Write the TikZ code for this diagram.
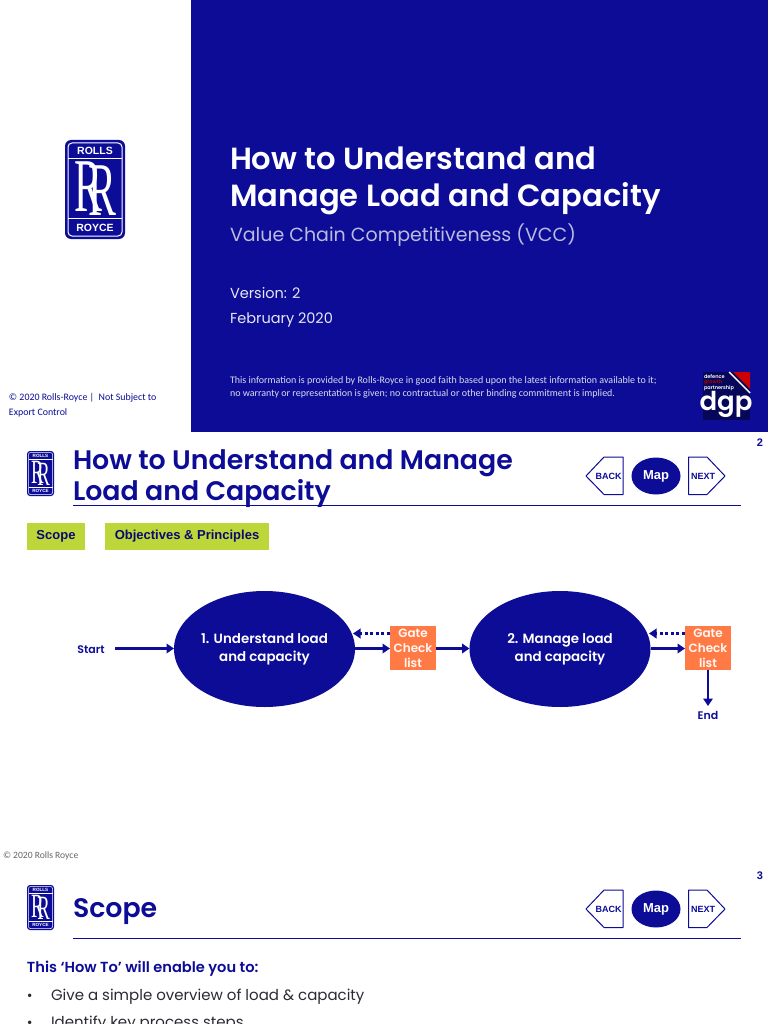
\documentclass[tikz,border=0pt]{standalone}
\usepackage{fontspec}
\setmainfont{Poppins}[BoldFont={Poppins SemiBold}]
\newfontfamily\arialf{Liberation Sans}
\newfontfamily\serifl{Liberation Serif}
\newfontfamily\narrowf{Carlito}
\usetikzlibrary{arrows.meta,shapes.geometric}
\definecolor{rrblue}{HTML}{0C0C96}
\definecolor{gate}{HTML}{FF7A45}
\definecolor{lime}{HTML}{BDD63A}
\definecolor{bodyink}{HTML}{2A2A33}
\newcommand{\fs}[1]{\fontsize{#1}{#1}\selectfont}
\newcommand{\rrmark}[2]{{\serifl\fs{#1}\scalebox{.55}[1]{R}\kern-#2pt\raisebox{-.05em}{\scalebox{.55}[1]{R}}}}
\tikzset{
  lbl/.style={inner sep=0pt,outer sep=0pt},
  left lbl/.style={lbl,anchor=base west,align=left},
  heading/.style={left lbl,text=rrblue,font=\fs{26.8}\bfseries},
  flowell/.style={ellipse,fill=rrblue,text=white,minimum width=181pt,minimum height=116pt,inner sep=0pt,outer sep=0pt,align=center,font=\fs{13.4}\bfseries},
  gatebox/.style={rectangle,fill=gate,text=white!95!gate,minimum width=46pt,minimum height=44pt,inner sep=0pt,outer sep=0pt,align=center,font=\fs{12}\bfseries},
  limebox/.style={rectangle,fill=lime,text=rrblue!75!black,minimum height=27pt,inner sep=0pt,font=\arialf\fs{13}\bfseries},
  flow/.style={draw=rrblue,line width=2.3pt,-{Triangle[length=7.5pt,width=9.5pt]}},
  backflow/.style={draw=rrblue,line width=2.6pt,dash pattern=on 3pt off 2.6pt,-{Triangle[length=7.5pt,width=9.5pt]}},
  navshape/.style={draw=rrblue,line width=1pt,fill=white,line join=round},
  navtext/.style={lbl,text=rrblue,font=\arialf\fs{9}\bfseries},
  mapell/.style={ellipse,fill=rrblue,text=white,minimum width=49pt,minimum height=37pt,inner sep=0pt,font=\arialf\fs{13}\bfseries},
  pagenum/.style={lbl,text=rrblue,font=\arialf\fs{11}\bfseries},
  rule/.style={draw=rrblue,line width=1pt},
  rrlabel/.style={lbl,text=white,font=\arialf\bfseries},
}
\begin{document}
\begin{tikzpicture}[x=1pt,y=-1pt]
\useasboundingbox (0,0) rectangle (768,1024);
\clip (0,0) rectangle (768,1024);
\fill[white] (0,0) rectangle (768,1024);
% cover slide
\fill[rrblue] (191,0) rectangle (768,432);
\begin{scope}[shift={(65,140)}]
  \fill[rrblue,rounded corners=6pt] (0,0) rectangle (60,99);
  \draw[white,line width=1pt,rounded corners=4pt] (3,3) rectangle (57,96);
  \draw[white,line width=1pt] (3,19) -- (57,19) (3,79) -- (57,79);
  \node[rrlabel,font=\arialf\bfseries\fs{10.5}] (ca) at (30,11) {ROLLS};
  \node[rrlabel,font=\arialf\bfseries\fs{10.5}] (cb) at (30,88) {ROYCE};
  \node[lbl,text=white] (cc) at (30,49) {\rrmark{76}{14}};
\end{scope}
\node[left lbl,text=white,font=\fs{30.6}\bfseries] (t1) at (230,170) {How to Understand and};
\node[left lbl,text=white,font=\fs{30.6}\bfseries] (t2) at (230,207) {Manage Load and Capacity};
\node[left lbl,text=white!72!rrblue,font=\fs{19}] (t3) at (230,241) {Value Chain Competitiveness (VCC)};
\node[left lbl,text=white!90!rrblue,font=\fs{14.5}] (t4) at (230,298) {Version: 2};
\node[left lbl,text=white!90!rrblue,font=\fs{14.5}] (t5) at (230,323) {February 2020};
\node[left lbl,text=white!85!rrblue,font=\narrowf\fs{10}] (t6) at (230,383.5) {This information is provided by Rolls-Royce in good faith based upon the latest information available to it;};
\node[left lbl,text=white!85!rrblue,font=\narrowf\fs{10}] (t7) at (230,396) {no warranty or representation is given; no contractual or other binding commitment is implied.};
\node[left lbl,text=rrblue,font=\narrowf\fs{9.9}] (t8) at (9,400.5) {© 2020 Rolls-Royce | ~Not Subject to};
\node[left lbl,text=rrblue,font=\narrowf\fs{9.9}] (t9) at (9,415) {Export Control};
% dgp logo
\fill[rrblue!60!black] (703,372) rectangle (750,420);
\fill[red!80!black] (733,372) -- (750,372) -- (750,389) -- cycle;
\draw[white,line width=1.4pt] (729,372) -- (750,393);
\node[left lbl,text=white,font=\fs{5}\bfseries] (d1) at (704,378) {defence};
\node[left lbl,text=red!70!black,font=\fs{5}\bfseries] (d2) at (704,383.5) {growth};
\node[left lbl,text=white,font=\fs{5}\bfseries] (d3) at (704,389) {partnership};
\node[lbl,text=white,font=\fs{26}\bfseries] (d4) at (726,404) {dgp};
% slide 2
\begin{scope}[shift={(27,451)}]
  \fill[rrblue,rounded corners=3pt] (0,0) rectangle (27,45);
  \draw[white,line width=.5pt,rounded corners=2pt] (1.5,1.5) rectangle (25.5,43.5);
  \draw[white,line width=.5pt] (1.5,8.7) -- (25.5,8.7) (1.5,36) -- (25.5,36);
  \node[rrlabel,font=\arialf\bfseries\fs{4.6}] (la) at (13.5,5.2) {ROLLS};
  \node[rrlabel,font=\arialf\bfseries\fs{4.6}] (lb) at (13.5,39.9) {ROYCE};
  \node[lbl,text=white] (lc) at (13.5,22.3) {\rrmark{34}{6.3}};
\end{scope}
\node[heading] (h1) at (73,469) {How to Understand and Manage};
\node[heading] (h2) at (73,500) {Load and Capacity};
\draw[rule] (73,505.5) -- (741,505.5);
\node[pagenum] (p2) at (760,443) {2};
\draw[navshape] (586,476) -- (604,457) -- (623,457) -- (623,494.5) -- (604,494.5) -- cycle;
\node[navtext] (back1) at (608.5,476) {BACK};
\node[mapell] (map1) at (656,476) {Map};
\draw[navshape] (688.5,457) -- (707,457) -- (725,476) -- (707,494.5) -- (688.5,494.5) -- cycle;
\node[navtext] (next1) at (703,476.5) {NEXT};
\node[limebox,minimum width=58pt] (scope) at (56,536.5) {\raisebox{-1pt}{Scope}};
\node[limebox,minimum width=164pt] (obj) at (187,536.5) {\raisebox{-1pt}{Objectives \& Principles}};
% flow
\node[lbl,text=rrblue,font=\fs{11}\bfseries] (start) at (91,649.5) {Start};
\node[flowell] (e1) at (264.5,649) {\raisebox{-.5pt}{1. Understand load\vphantom{g}}\\[2.5pt]and capacity};
\node[gatebox] (g1) at (413,648) {Gate\\[3pt]Check\\[3pt]list};
\node[flowell] (e2) at (560,649) {\raisebox{-.5pt}{2. Manage load\vphantom{g}}\\[2.5pt]and capacity};
\node[gatebox] (g2) at (708,648) {Gate\\[3pt]Check\\[3pt]list};
\node[lbl,text=rrblue,font=\fs{11}\bfseries] (end) at (708,715) {End};
\coordinate (startout) at (115,648.5);
\draw[flow] (startout) -- (e1.west |- startout);
\draw[flow] (e1.east |- 0,648.5) -- (g1.west |- 0,648.5);
\draw[flow] (g1.east |- 0,648.5) -- (e2.west |- 0,648.5);
\draw[flow] (e2.east |- 0,648.5) -- (g2.west |- 0,648.5);
\draw[backflow] (g1.west |- 0,633.5) -- (353,633.5);
\draw[backflow] (g2.west |- 0,633.5) -- (649,633.5);
\draw[flow] (g2.south) -- (end.north |- 0,706);
\node[left lbl,text=black!60,font=\narrowf\fs{9.6}] (c2) at (3,858) {© 2020 Rolls Royce};
% slide 3
\begin{scope}[shift={(27,885)}]
  \fill[rrblue,rounded corners=3pt] (0,0) rectangle (27,45);
  \draw[white,line width=.5pt,rounded corners=2pt] (1.5,1.5) rectangle (25.5,43.5);
  \draw[white,line width=.5pt] (1.5,8.7) -- (25.5,8.7) (1.5,36) -- (25.5,36);
  \node[rrlabel,font=\arialf\bfseries\fs{4.6}] (ma) at (13.5,5.2) {ROLLS};
  \node[rrlabel,font=\arialf\bfseries\fs{4.6}] (mb) at (13.5,39.9) {ROYCE};
  \node[lbl,text=white] (mc) at (13.5,22.3) {\rrmark{34}{6.3}};
\end{scope}
\node[heading] (h3) at (73,917.5) {Scope};
\draw[rule] (73,938.5) -- (741,938.5);
\node[pagenum] (p3) at (760,876) {3};
\draw[navshape] (586,909) -- (604,890) -- (623,890) -- (623,927.5) -- (604,927.5) -- cycle;
\node[navtext] (back2) at (608.5,909) {BACK};
\node[mapell] (map2) at (656,909) {Map};
\draw[navshape] (688.5,890) -- (707,890) -- (725,909) -- (707,927.5) -- (688.5,927.5) -- cycle;
\node[navtext] (next2) at (703,909.5) {NEXT};
\node[left lbl,text=rrblue,font=\fs{14.6}\bfseries] (s1) at (27,972) {This ‘How To’ will enable you to:};
\node[left lbl,text=bodyink,font=\fs{14}] (b1) at (27,1000) {•};
\node[left lbl,text=bodyink,font=\fs{15}] (s2) at (51,1000) {Give a simple overview of load \& capacity};
\node[left lbl,text=bodyink,font=\fs{14}] (b2) at (27,1027) {•};
\node[left lbl,text=bodyink,font=\fs{15}] (s3) at (51,1027) {Identify key process steps};
\end{tikzpicture}
\end{document}
